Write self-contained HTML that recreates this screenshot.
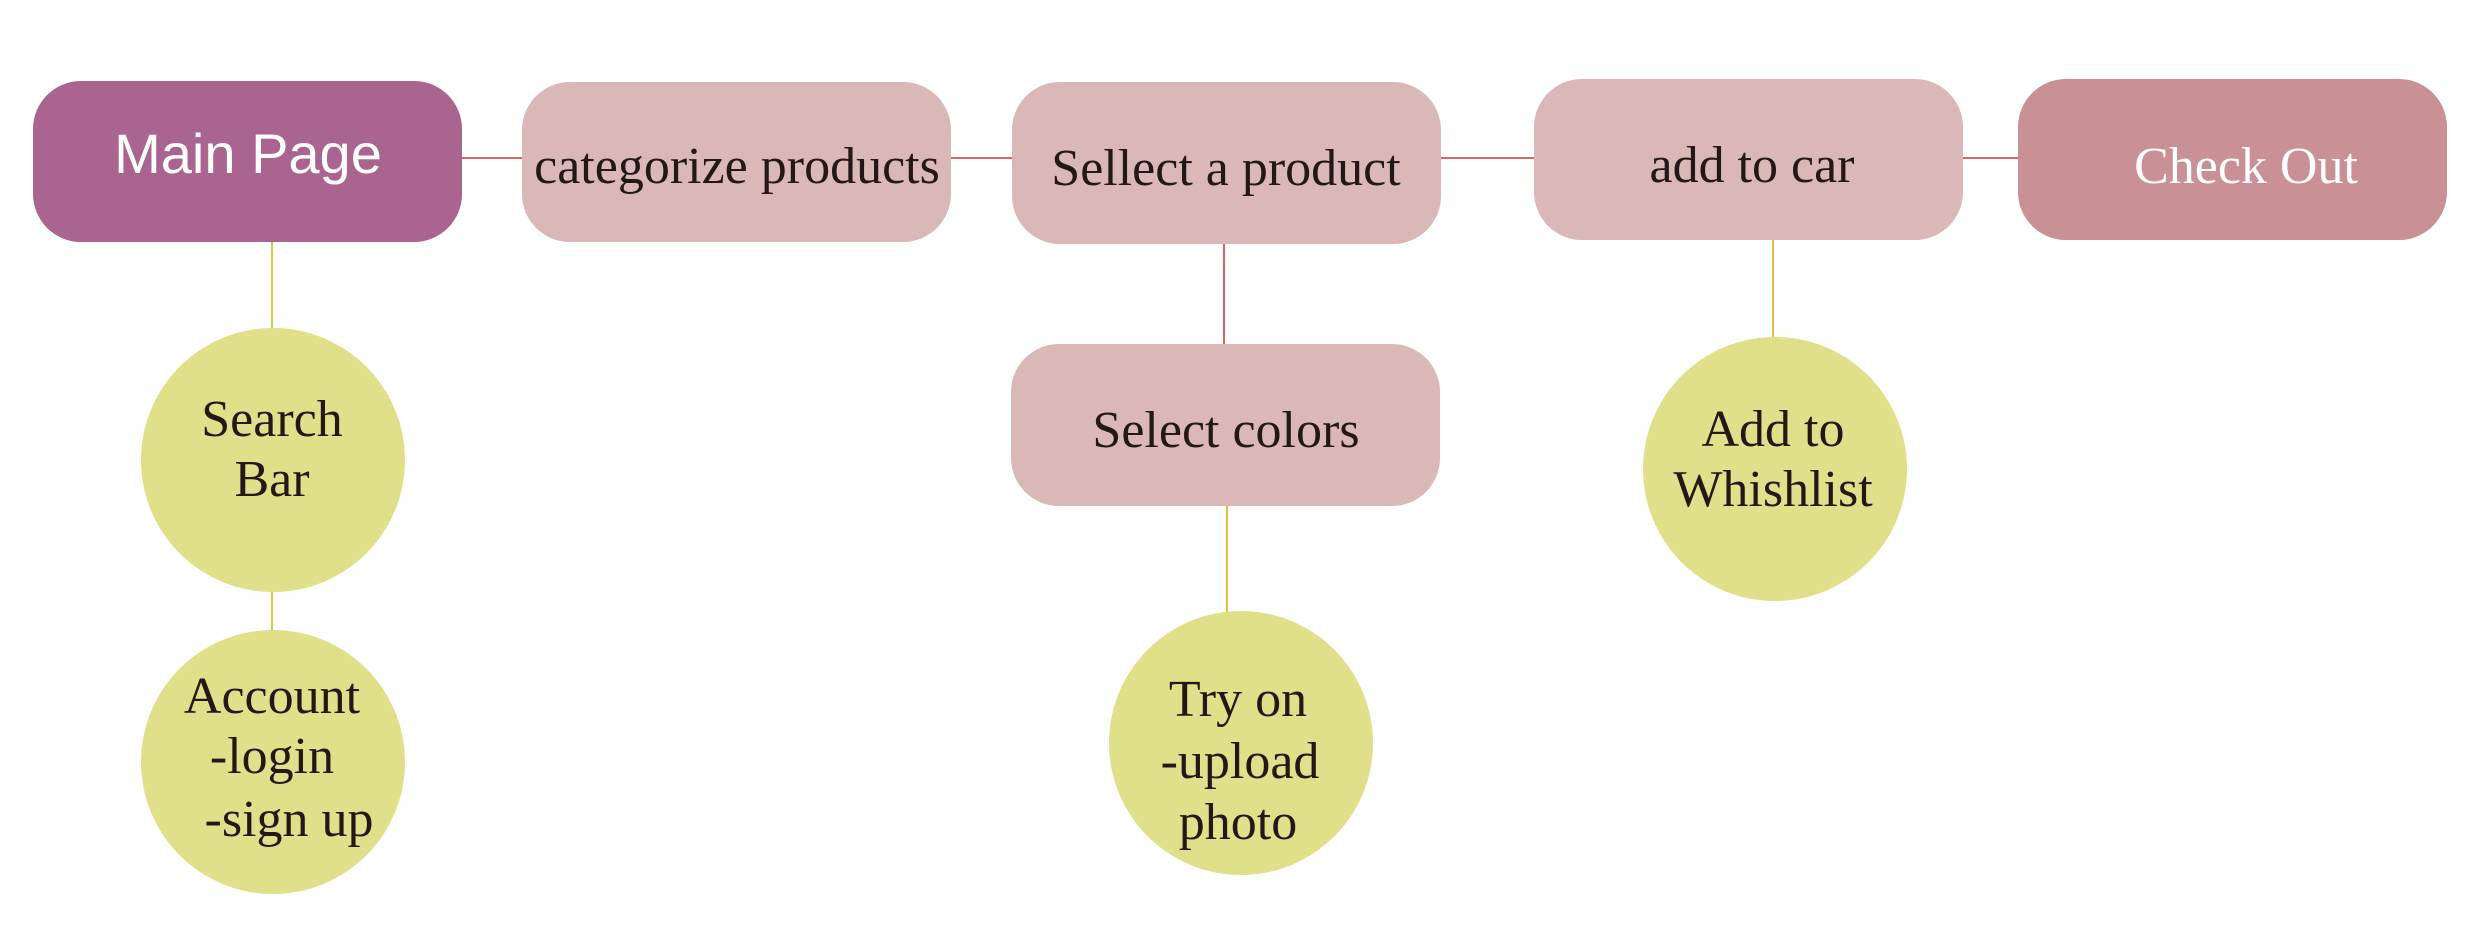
<!DOCTYPE html>
<html><head><meta charset="utf-8"><style>
html,body{margin:0;padding:0;background:#fff;width:2480px;height:949px;overflow:hidden}
svg{display:block}
.s{font-family:"Liberation Serif",serif;font-size:52px;fill:#231815;text-anchor:middle}
</style></head><body>
<svg width="2480" height="949" viewBox="0 0 2480 949" xmlns="http://www.w3.org/2000/svg">
<g stroke="#d9646a" stroke-width="2">
<line x1="462" y1="158" x2="2018" y2="158"/>
<line x1="1224" y1="244" x2="1224" y2="344"/>
</g>
<g stroke="#e0c040" stroke-width="2">
<line x1="272" y1="242" x2="272" y2="630"/>
<line x1="1227" y1="505" x2="1227" y2="612"/>
<line x1="1773" y1="240" x2="1773" y2="338"/>
</g>
<rect x="33" y="81" width="429" height="161" rx="48" fill="#a9648f"/>
<rect x="522" y="82" width="429" height="160" rx="48" fill="#dab8b8"/>
<rect x="1012" y="82" width="429" height="162" rx="48" fill="#dab8b8"/>
<rect x="1534" y="79" width="429" height="161" rx="48" fill="#dab8b8"/>
<rect x="2018" y="79" width="429" height="161" rx="48" fill="#c99096"/>
<rect x="1011" y="344" width="429" height="162" rx="48" fill="#dab8b8"/>
<circle cx="273" cy="460" r="132" fill="#e0e08a"/>
<circle cx="273" cy="762" r="132" fill="#e0e08a"/>
<circle cx="1241" cy="743" r="132" fill="#e0e08a"/>
<circle cx="1775" cy="469" r="132" fill="#e0e08a"/>
<text x="248" y="173" style="font-family:'Liberation Sans',sans-serif;font-size:56px;fill:#fff;text-anchor:middle">Main Page</text>
<text class="s" x="737" y="183">categorize products</text>
<text class="s" x="1226" y="185">Sellect a product</text>
<text class="s" x="1752" y="182">add to car</text>
<text class="s" x="2246" y="183" style="fill:#fff">Check Out</text>
<text class="s" x="1226" y="447">Select colors</text>
<text class="s" x="272" y="436">Search</text>
<text class="s" x="272" y="496">Bar</text>
<text class="s" x="272" y="713">Account</text>
<text class="s" x="272" y="773">-login</text>
<text class="s" x="289" y="836">-sign up</text>
<text class="s" x="1238" y="716">Try on</text>
<text class="s" x="1240" y="778">-upload</text>
<text class="s" x="1238" y="839">photo</text>
<text class="s" x="1773" y="446">Add to</text>
<text class="s" x="1773" y="506">Whishlist</text>
</svg>
</body></html>
